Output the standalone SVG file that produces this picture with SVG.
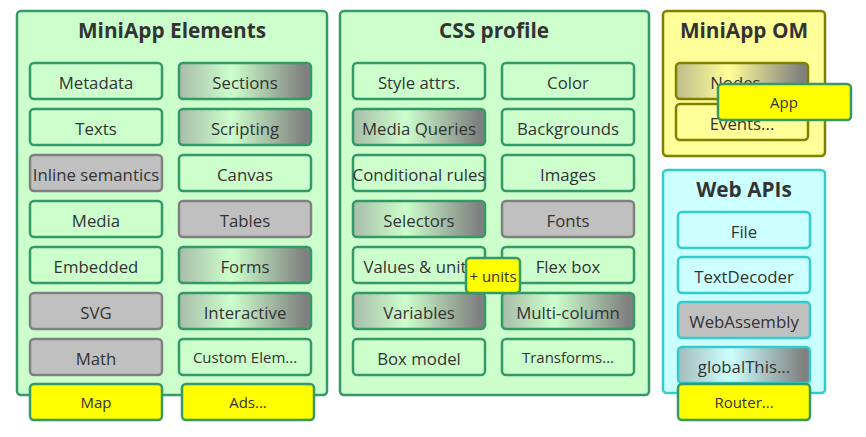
<svg xmlns="http://www.w3.org/2000/svg" width="866" height="437" viewBox="0 0 866 437">
<defs>
<linearGradient id="gG" x1="0" y1="0" x2="1" y2="0">
<stop offset="0" stop-color="#a9bca9"/><stop offset="0.4" stop-color="#ccffcc"/><stop offset="0.95" stop-color="#808080"/>
</linearGradient>
<linearGradient id="gY" x1="0" y1="0" x2="1" y2="0">
<stop offset="0" stop-color="#bcbc8c"/><stop offset="0.4" stop-color="#ffff99"/><stop offset="0.95" stop-color="#808080"/>
</linearGradient>
<linearGradient id="gC" x1="0" y1="0" x2="1" y2="0">
<stop offset="0" stop-color="#a6bcbc"/><stop offset="0.4" stop-color="#ccffff"/><stop offset="0.95" stop-color="#808080"/>
</linearGradient>
<style>
text{font-family:"Open Sans","Noto Sans","DejaVu Sans",sans-serif;fill:#333333;text-anchor:middle}
.t{font-size:20.8px;font-weight:bold}
.l{font-size:16.8px}
.s{font-size:15px}
.grp{fill:#ccffcc;stroke:#339966;stroke-width:2.5}
.gy{fill:#ffff99;stroke:#808000;stroke-width:2.5}
.gc{fill:#ccffff;stroke:#33cccc;stroke-width:2.5}
.n{fill:#ccffcc;stroke:#339966;stroke-width:2.5}
.ng{fill:#c0c0c0;stroke:#808080;stroke-width:2.5}
.nd{fill:url(#gG);stroke:#339966;stroke-width:2.5}
.ny{fill:#ffff99;stroke:#808000;stroke-width:2.5}
.nyd{fill:url(#gY);stroke:#808000;stroke-width:2.5}
.nc{fill:#ccffff;stroke:#33cccc;stroke-width:2.5}
.ncd{fill:url(#gC);stroke:#33cccc;stroke-width:2.5}
.ncg{fill:#c0c0c0;stroke:#33cccc;stroke-width:2.5}
.yl{fill:#ffff00;stroke:#339966;stroke-width:2.5}
</style>
</defs>

<g id="g-elements">
<rect class="grp" x="17" y="11" width="310" height="384" rx="4"/>
<text class="t" x="172" y="38">MiniApp Elements</text>
</g>
<g id="n-metadata"><rect class="n" x="30" y="63" width="132" height="36" rx="4"/><text class="l" x="96" y="88.5">Metadata</text></g>
<g id="n-sections"><rect class="nd" x="179" y="63" width="132" height="36" rx="4"/><text class="l" x="245" y="88.5">Sections</text></g>
<g id="n-texts"><rect class="n" x="30" y="109" width="132" height="36" rx="4"/><text class="l" x="96" y="134.5">Texts</text></g>
<g id="n-scripting"><rect class="nd" x="179" y="109" width="132" height="36" rx="4"/><text class="l" x="245" y="134.5">Scripting</text></g>
<g id="n-inline"><rect class="ng" x="30" y="155" width="132" height="36" rx="4"/><text class="l" x="96" y="180.5">Inline semantics</text></g>
<g id="n-canvas"><rect class="n" x="179" y="155" width="132" height="36" rx="4"/><text class="l" x="245" y="180.5">Canvas</text></g>
<g id="n-media"><rect class="n" x="30" y="201" width="132" height="36" rx="4"/><text class="l" x="96" y="226.5">Media</text></g>
<g id="n-tables"><rect class="ng" x="179" y="201" width="132" height="36" rx="4"/><text class="l" x="245" y="226.5">Tables</text></g>
<g id="n-embedded"><rect class="n" x="30" y="247" width="132" height="36" rx="4"/><text class="l" x="96" y="272.5">Embedded</text></g>
<g id="n-forms"><rect class="nd" x="179" y="247" width="132" height="36" rx="4"/><text class="l" x="245" y="272.5">Forms</text></g>
<g id="n-svg"><rect class="ng" x="30" y="293" width="132" height="36" rx="4"/><text class="l" x="96" y="318.5">SVG</text></g>
<g id="n-interactive"><rect class="nd" x="179" y="293" width="132" height="36" rx="4"/><text class="l" x="245" y="318.5">Interactive</text></g>
<g id="n-math"><rect class="ng" x="30" y="339" width="132" height="36" rx="4"/><text class="l" x="96" y="364.5">Math</text></g>
<g id="n-custom"><rect class="n" x="179" y="339" width="132" height="36" rx="4"/><text class="s" x="245" y="363">Custom Elem...</text></g>
<g id="n-map"><rect class="yl" x="30" y="384" width="132" height="36" rx="4"/><text class="s" x="96" y="408">Map</text></g>
<g id="n-ads"><rect class="yl" x="182" y="384" width="132" height="36" rx="4"/><text class="s" x="248" y="408">Ads...</text></g>

<g id="g-css">
<rect class="grp" x="340" y="11" width="309" height="384" rx="4"/>
<text class="t" x="494" y="38">CSS profile</text>
</g>
<g id="n-style"><rect class="n" x="353" y="63" width="132" height="36" rx="4"/><text class="l" x="419" y="88.5">Style attrs.</text></g>
<g id="n-color"><rect class="n" x="502" y="63" width="132" height="36" rx="4"/><text class="l" x="568" y="88.5">Color</text></g>
<g id="n-mq"><rect class="nd" x="353" y="109" width="132" height="36" rx="4"/><text class="l" x="419" y="134.5">Media Queries</text></g>
<g id="n-bg"><rect class="n" x="502" y="109" width="132" height="36" rx="4"/><text class="l" x="568" y="134.5">Backgrounds</text></g>
<g id="n-cond"><rect class="n" x="353" y="155" width="132" height="36" rx="4"/><text class="l" x="419" y="180.5">Conditional rules</text></g>
<g id="n-images"><rect class="n" x="502" y="155" width="132" height="36" rx="4"/><text class="l" x="568" y="180.5">Images</text></g>
<g id="n-selectors"><rect class="nd" x="353" y="201" width="132" height="36" rx="4"/><text class="l" x="419" y="226.5">Selectors</text></g>
<g id="n-fonts"><rect class="ng" x="502" y="201" width="132" height="36" rx="4"/><text class="l" x="568" y="226.5">Fonts</text></g>
<g id="n-values"><rect class="n" x="353" y="247" width="132" height="36" rx="4"/><text class="l" x="419" y="272.5">Values &amp; units</text></g>
<g id="n-flex"><rect class="n" x="502" y="247" width="132" height="36" rx="4"/><text class="l" x="568" y="272.5">Flex box</text></g>
<g id="n-variables"><rect class="nd" x="353" y="293" width="132" height="36" rx="4"/><text class="l" x="419" y="318.5">Variables</text></g>
<g id="n-multicol"><rect class="nd" x="502" y="293" width="132" height="36" rx="4"/><text class="l" x="568" y="318.5">Multi-column</text></g>
<g id="n-box"><rect class="n" x="353" y="339" width="132" height="36" rx="4"/><text class="l" x="419" y="364.5">Box model</text></g>
<g id="n-transforms"><rect class="n" x="502" y="339" width="132" height="36" rx="4"/><text class="s" x="568" y="363">Transforms...</text></g>
<g id="n-units"><rect class="yl" x="466" y="258" width="54" height="35" rx="4"/><text class="s" x="493" y="281.5">+ units</text></g>

<g id="g-om">
<rect class="gy" x="663" y="11" width="162" height="145" rx="4"/>
<text class="t" x="744" y="38">MiniApp OM</text>
</g>
<g id="n-nodes"><rect class="nyd" x="676" y="63" width="132" height="36" rx="4"/><text class="l" x="742" y="88.5">Nodes...</text></g>
<g id="n-events"><rect class="ny" x="676" y="104" width="132" height="36" rx="4"/><text class="l" x="742" y="130">Events...</text></g>
<g id="n-app"><rect class="yl" x="718" y="84" width="133" height="36" rx="4"/><text class="s" x="784" y="108">App</text></g>

<g id="g-webapis">
<rect class="gc" x="663" y="170" width="162" height="223" rx="4"/>
<text class="t" x="744" y="197">Web APIs</text>
</g>
<g id="n-file"><rect class="nc" x="678" y="212" width="132" height="36" rx="4"/><text class="l" x="744" y="237.5">File</text></g>
<g id="n-textdecoder"><rect class="nc" x="678" y="257" width="132" height="36" rx="4"/><text class="l" x="744" y="282.5">TextDecoder</text></g>
<g id="n-wasm"><rect class="ncg" x="678" y="302" width="132" height="36" rx="4"/><text class="l" x="744" y="327.5">WebAssembly</text></g>
<g id="n-global"><rect class="ncd" x="678" y="347" width="132" height="36" rx="4"/><text class="l" x="744" y="372.5">globalThis...</text></g>
<g id="n-router"><rect class="yl" x="678" y="384" width="132" height="36" rx="4"/><text class="s" x="744" y="408">Router...</text></g>

<g id="connectors"></g>
</svg>
